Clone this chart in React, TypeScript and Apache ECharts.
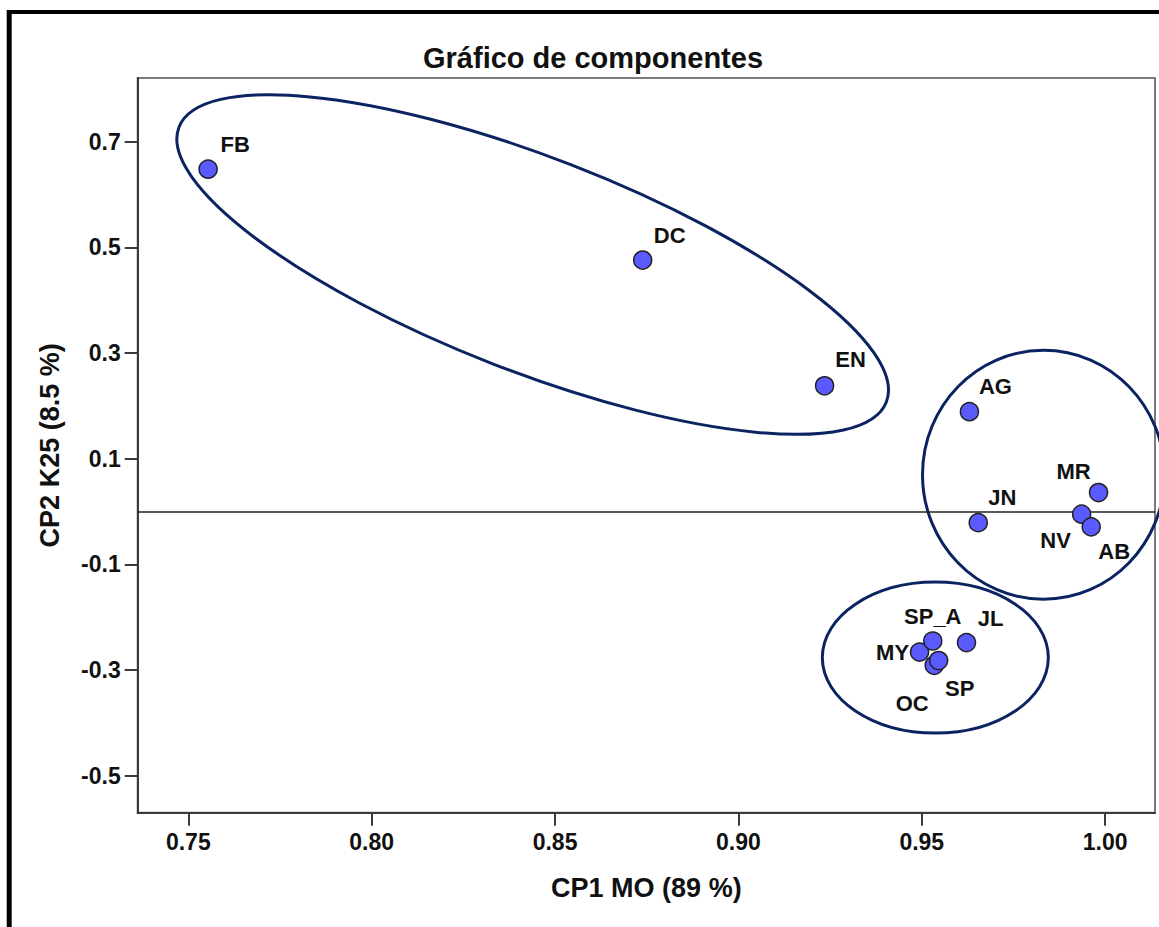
import React, { useEffect, useRef } from "react";
import * as echarts from "echarts";

// ---- data ----
const categories = ["FB", "DC", "EN", "AG", "MR", "JN", "NV", "AB", "JL", "MY", "OC", "SP", "SP_A"];
const cp1Values = [0.7554, 0.8739, 0.9235, 0.963, 0.9982, 0.9654, 0.9936, 0.9962, 0.9622, 0.9494, 0.9534, 0.9546, 0.953];
const cp2Values = [0.648, 0.476, 0.238, 0.189, 0.036, -0.021, -0.005, -0.029, -0.248, -0.266, -0.291, -0.282, -0.245];
const xTickValues = [0.75, 0.8, 0.85, 0.9, 0.95, 1.0];
const yTickValues = [-0.5, -0.3, -0.1, 0.1, 0.3, 0.5, 0.7];

// group ellipses: centres in data units
const groupNames = ["G1", "G2", "G3"];
const groupCentreX = [0.8439, 0.9832, 0.9537];
const groupCentreY = [0.4675, 0.0697, -0.2764];

// ---- styling (pixels) ----
const labelOffsets: Record<string, [number, number]> = {
  FB: [27, -25],
  DC: [27, -25],
  EN: [26, -26],
  AG: [26, -25],
  JN: [24, -25],
  MR: [-25, -21],
  NV: [-26, 26],
  AB: [23, 25],
  SP_A: [0, -24],
  JL: [24, -24],
  MY: [-27, 0],
  SP: [21, 28],
  OC: [-22, 38],
};
const ellipseShapes: Record<string, { rx: number; ry: number; rot: number }> = {
  G1: { rx: 379.5, ry: 107, rot: -21.2 },
  G2: { rx: 121, ry: 124.5, rot: 0 },
  G3: { rx: 113, ry: 75.5, rot: 0 },
};

const FONT = "'Liberation Sans', Arial, sans-serif";

export default function App() {
  const ref = useRef<HTMLDivElement>(null);
  useEffect(() => {
    if (!ref.current) return;
    const chart = echarts.init(ref.current, undefined, { renderer: "svg" });
    const pointData = categories.map((name, i) => ({
      name,
      value: [cp1Values[i], cp2Values[i]],
      label: { offset: labelOffsets[name] },
    }));
    const ellipseData = groupNames.map((g, i) => ({ name: g, value: [groupCentreX[i], groupCentreY[i]] }));

    chart.setOption({
      animation: false,
      backgroundColor: "#ffffff",
      title: {
        text: "Gráfico de componentes",
        left: 588,
        top: 38,
        textAlign: "center",
        textStyle: { fontFamily: FONT, fontSize: 29, fontWeight: "bold", color: "#111" },
      },
      grid: {
        left: 137.7,
        top: 78,
        right: 4,
        bottom: 114.3,
        show: true,
        borderColor: "#7a7a7a",
        borderWidth: 2,
        backgroundColor: "transparent",
        outerBoundsMode: "none",
        containLabel: false,
      },
      xAxis: {
        type: "value",
        min: 0.7362,
        max: 1.0136,
        name: "CP1 MO (89 %)",
        nameLocation: "middle",
        nameGap: 62,
        nameTextStyle: { fontFamily: FONT, fontSize: 27, fontWeight: "bold", color: "#111" },
        axisLine: { show: true, onZero: false, lineStyle: { color: "#3a3a3a", width: 2 } },
        axisTick: { show: true, length: 13, customValues: xTickValues, lineStyle: { color: "#3a3a3a", width: 2 } },
        axisLabel: {
          customValues: xTickValues,
          formatter: (v: number) => v.toFixed(2),
          margin: 18,
          fontFamily: FONT,
          fontSize: 23,
          fontWeight: "bold",
          color: "#111",
        },
        splitLine: { show: false },
      },
      yAxis: {
        type: "value",
        min: -0.57,
        max: 0.8206,
        name: "CP2 K25 (8.5 %)",
        nameLocation: "middle",
        nameGap: 74,
        nameRotate: 90,
        nameTextStyle: { fontFamily: FONT, fontSize: 27, fontWeight: "bold", color: "#111" },
        axisLine: { show: true, onZero: false, lineStyle: { color: "#3a3a3a", width: 2 } },
        axisTick: { show: true, length: 13, customValues: yTickValues, lineStyle: { color: "#3a3a3a", width: 2 } },
        axisLabel: {
          customValues: yTickValues,
          formatter: (v: number) => v.toFixed(1),
          margin: 17,
          fontFamily: FONT,
          fontSize: 23,
          fontWeight: "bold",
          color: "#111",
        },
        splitLine: { show: false },
      },
      graphic: [
        { type: "line", shape: { x1: 9.2, y1: 10, x2: 9.2, y2: 927 }, style: { stroke: "#000", lineWidth: 5 }, z: 100 },
        { type: "line", shape: { x1: 7, y1: 12, x2: 1159, y2: 12 }, style: { stroke: "#000", lineWidth: 4 }, z: 100 },
      ],
      series: [
        {
          type: "custom",
          name: "groups",
          data: ellipseData,
          clip: false,
          silent: true,
          z: 2,
          renderItem: (params: any, api: any) => {
            const c = api.coord([api.value(0), api.value(1)]);
            const s = ellipseShapes[groupNames[params.dataIndex]];
            return {
              type: "ellipse",
              x: c[0],
              y: c[1],
              rotation: (s.rot * Math.PI) / 180,
              shape: { cx: 0, cy: 0, rx: s.rx, ry: s.ry },
              style: { fill: "none", stroke: "#0b2461", lineWidth: 3 },
            };
          },
        },
        {
          type: "scatter",
          name: "components",
          data: pointData,
          symbol: "circle",
          symbolSize: 18,
          z: 5,
          itemStyle: { color: "#5a5aff", borderColor: "#222", borderWidth: 1.5, opacity: 1 },
          label: {
            show: true,
            position: "inside",
            formatter: (p: any) => p.name,
            fontFamily: FONT,
            fontSize: 22,
            fontWeight: "bold",
            color: "#111",
            align: "center",
            verticalAlign: "middle",
          },
          emphasis: { disabled: true },
          markLine: {
            silent: true,
            symbol: "none",
            label: { show: false },
            lineStyle: { color: "#222", width: 1.5, type: "solid" },
            data: [{ yAxis: 0 }],
          },
        },
      ],
    });
    return () => chart.dispose();
  }, []);
  return <div ref={ref} style={{ position: "fixed", left: 0, top: 0, width: 1159, height: 927 }} />;
}
